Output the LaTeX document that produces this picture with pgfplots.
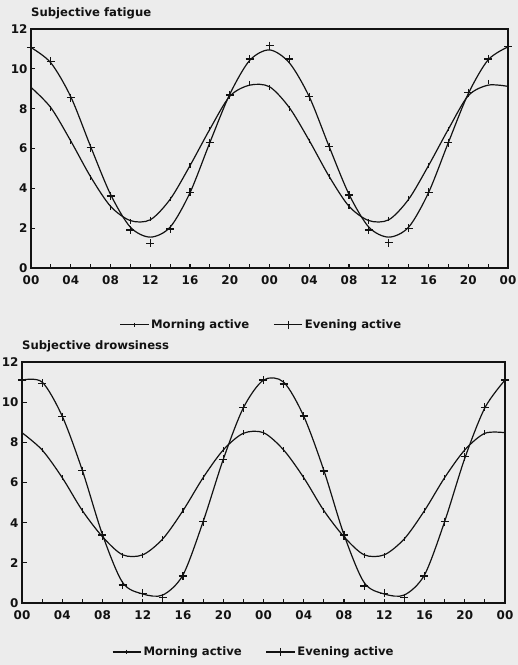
\documentclass[border=0pt]{standalone}
\usepackage{fontspec}
\setmainfont{DejaVu Sans}
\usepackage{pgfplots}
\usepackage{pgfplotstable}
\pgfplotsset{compat=1.18}
\definecolor{bg}{RGB}{236,236,236}
\definecolor{ink}{RGB}{18,18,18}

% Subjective fatigue: h, morning marks, morning curve, evening marks, evening curve
\pgfplotstableread{
h  mm    mc    em    ec
0  9.07  9.07  11.07 11.07
2  8.02  8.05  10.37 10.30
4  6.35  6.38  8.56  8.60
6  4.54  4.58  6.05  6.10
8  3.05  3.10  3.62  3.70
10 2.33  2.38  1.91  2.05
12 2.46  2.42  1.24  1.55
14 3.47  3.45  1.96  2.05
16 5.14  5.14  3.80  3.78
18 6.97  6.97  6.30  6.30
20 8.61  8.62  8.69  8.72
22 9.28  9.18  10.49 10.42
24 9.07  9.10  11.17 10.95
26 8.02  8.05  10.49 10.30
28 6.38  6.40  8.61  8.60
30 4.59  4.60  6.10  6.10
32 3.08  3.10  3.67  3.70
34 2.33  2.38  1.91  2.05
36 2.46  2.42  1.27  1.55
38 3.50  3.45  1.99  2.05
40 5.14  5.14  3.80  3.78
42 6.97  6.97  6.30  6.30
44 8.69  8.65  8.81  8.75
46 9.33  9.18  10.49 10.45
48 9.15  9.12  11.12 11.10
}\fatigue

% Subjective drowsiness
\pgfplotstableread{
h  mm    mc    em    ec
0  8.48  8.48  11.10 11.10
2  7.62  7.62  10.94 11.00
4  6.24  6.24  9.28  9.30
6  4.60  4.60  6.59  6.60
8  3.27  3.30  3.39  3.40
10 2.36  2.40  0.90  1.02
12 2.36  2.40  0.48  0.45
14 3.22  3.20  0.26  0.40
16 4.60  4.60  1.34  1.40
18 6.24  6.24  4.05  4.05
20 7.65  7.62  7.15  7.15
22 8.48  8.45  9.73  9.72
24 8.48  8.48  11.10 11.10
26 7.65  7.62  10.90 11.00
28 6.24  6.24  9.31  9.30
30 4.60  4.60  6.57  6.60
32 3.27  3.30  3.39  3.40
34 2.36  2.40  0.85  1.02
36 2.36  2.40  0.48  0.45
38 3.18  3.20  0.26  0.40
40 4.60  4.60  1.34  1.40
42 6.24  6.24  4.05  4.05
44 7.65  7.62  7.29  7.20
46 8.48  8.45  9.75  9.72
48 8.48  8.48  11.10 11.10
}\drowsy

\pgfplotsset{
  panel/.style={
    scale only axis,
    xmin=0, xmax=48, ymin=0, ymax=12,
    clip=false,
    axis line style={ink, line width=1.5bp},
    tick style={ink, line width=1.2bp},
    tick align=inside,
    major tick length=4.5bp,
    xtick pos=bottom, ytick pos=left,
    xtick={0,2,...,48},
    xticklabels={00,,04,,08,,12,,16,,20,,00,,04,,08,,12,,16,,20,,00},
    ytick={0,2,...,12},
    /pgf/number format/assume math mode=true,
    ticklabel style={font=\bfseries\fontsize{12}{14}\selectfont, text=ink},
    xticklabel style={yshift=-4.5bp},
    title style={anchor=base west, at={(0,1)}, inner sep=0pt, yshift=6.5bp,
      font=\bfseries\fontsize{11.7}{13}\selectfont, text=ink},
    legend style={draw=none, fill=none, legend columns=2,
      font=\bfseries\fontsize{11.7}{13}\selectfont, text=ink,
      /tikz/every even column/.append style={column sep=22bp}},
    legend image code/.code={\draw[mark repeat=2,mark phase=2,#1]
      plot coordinates {(0cm,0cm) (0.5cm,0cm) (1cm,0cm)};},
    curve/.style={ink, line width=1.2bp, smooth, no markers},
    mmark/.style={ink, only marks, mark=|, mark size=2.3bp, mark options={line width=1.1bp}},
    emark/.style={ink, only marks, mark=+, mark size=4bp, mark options={line width=1.2bp}},
  }
}

\begin{document}
\begin{tikzpicture}
\fill[bg] (0,0) rectangle (518bp,-665bp);
\useasboundingbox (0,0) rectangle (518bp,-665bp);

\begin{axis}[panel, at={(31bp,-268bp)}, anchor=south west,
  width=477bp, height=239bp,
  title={Subjective fatigue},
  legend style={at={(0.483,-0.238)}, anchor=center}]
  \addlegendimage{ink, line width=1.2bp, mark=|, mark size=2.3bp, mark options={line width=1.1bp}}
  \addlegendentry{Morning active}
  \addlegendimage{ink, line width=1.2bp, mark=+, mark size=4bp, mark options={line width=1.2bp}}
  \addlegendentry{Evening active}
  \addplot[curve, forget plot] table[x=h, y=mc] {\fatigue};
  \addplot[curve, forget plot] table[x=h, y=ec] {\fatigue};
  \addplot[mmark, forget plot] table[x=h, y=mm] {\fatigue};
  \addplot[emark, forget plot] table[x=h, y=em] {\fatigue};
\end{axis}

\begin{axis}[panel, at={(22bp,-603bp)}, anchor=south west,
  width=483bp, height=241bp,
  title={Subjective drowsiness},
  legend style={at={(0.48,-0.203)}, anchor=center}]
  \addlegendimage{ink, line width=1.2bp, mark=|, mark size=2.3bp, mark options={line width=1.1bp}}
  \addlegendentry{Morning active}
  \addlegendimage{ink, line width=1.2bp, mark=+, mark size=4bp, mark options={line width=1.2bp}}
  \addlegendentry{Evening active}
  \addplot[curve, forget plot] table[x=h, y=mc] {\drowsy};
  \addplot[curve, forget plot] table[x=h, y=ec] {\drowsy};
  \addplot[mmark, forget plot] table[x=h, y=mm] {\drowsy};
  \addplot[emark, forget plot] table[x=h, y=em] {\drowsy};
\end{axis}
\end{tikzpicture}
\end{document}
